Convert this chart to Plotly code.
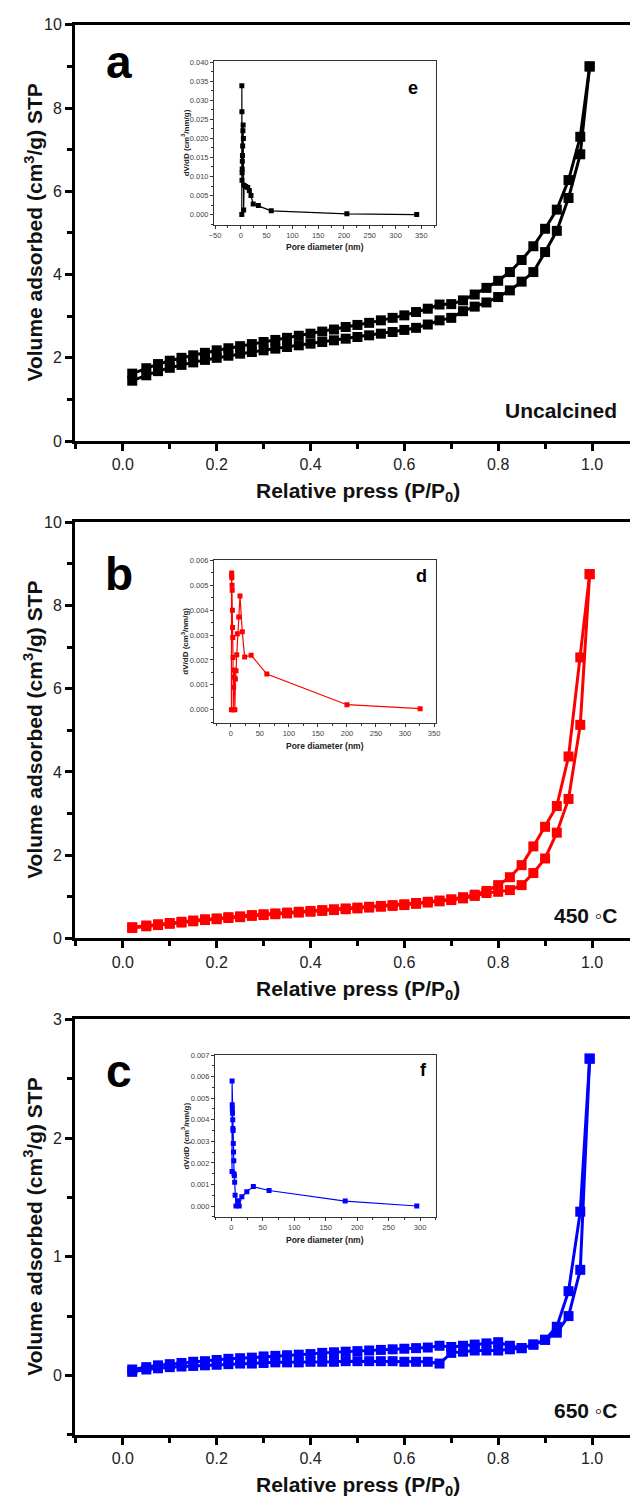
import plotly.graph_objects as go

W, H = 634, 1509
FONT = "Arial, Liberation Sans, Helvetica, sans-serif"

# ---------------- data ----------------
p_rel = [0.02, 0.05, 0.075, 0.1, 0.125, 0.15, 0.175, 0.2, 0.225, 0.25, 0.275, 0.3, 0.325, 0.35,
         0.375, 0.4, 0.425, 0.45, 0.475, 0.5, 0.525, 0.55, 0.575, 0.6, 0.625, 0.65, 0.675, 0.7,
         0.725, 0.75, 0.775, 0.8, 0.825, 0.85, 0.875, 0.9, 0.925, 0.95, 0.975, 0.995]

a_ads = [1.45, 1.58, 1.68, 1.76, 1.83, 1.89, 1.95, 2.0, 2.05, 2.1, 2.14, 2.18, 2.22, 2.26,
         2.3, 2.34, 2.38, 2.42, 2.46, 2.5, 2.54, 2.58, 2.62, 2.67, 2.72, 2.8, 2.9, 2.96,
         3.12, 3.23, 3.33, 3.46, 3.62, 3.83, 4.06, 4.54, 5.05, 5.84, 6.89, 9.0]
a_des = [1.62, 1.75, 1.85, 1.93, 2.0, 2.06, 2.12, 2.18, 2.23, 2.28, 2.33, 2.38, 2.43, 2.48,
         2.53, 2.58, 2.63, 2.68, 2.74, 2.79, 2.84, 2.9, 2.96, 3.02, 3.1, 3.18, 3.28, 3.29,
         3.38, 3.52, 3.68, 3.85, 4.06, 4.35, 4.68, 5.1, 5.56, 6.27, 7.31, 9.0]

b_ads = [0.25, 0.29, 0.32, 0.35, 0.38, 0.41, 0.44, 0.46, 0.49, 0.51, 0.54, 0.56, 0.58, 0.6,
         0.62, 0.64, 0.66, 0.68, 0.7, 0.72, 0.74, 0.76, 0.78, 0.8, 0.83, 0.86, 0.89, 0.92,
         0.96, 1.02, 1.09, 1.12, 1.16, 1.28, 1.57, 1.92, 2.54, 3.35, 5.13, 8.75]
b_des = [0.27, 0.31, 0.34, 0.37, 0.4, 0.43, 0.46, 0.48, 0.51, 0.53, 0.56, 0.58, 0.6, 0.62,
         0.64, 0.66, 0.68, 0.7, 0.72, 0.74, 0.76, 0.78, 0.8, 0.82, 0.85, 0.88, 0.91, 0.94,
         0.99, 1.05, 1.14, 1.28, 1.47, 1.76, 2.21, 2.68, 3.18, 4.37, 6.75, 8.75]

c_ads = [0.03, 0.05, 0.06, 0.07, 0.075, 0.08, 0.085, 0.09, 0.095, 0.1, 0.1, 0.105, 0.11, 0.11,
         0.11, 0.115, 0.115, 0.115, 0.12, 0.12, 0.12, 0.12, 0.12, 0.115, 0.115, 0.115, 0.1, 0.19,
         0.2, 0.21, 0.21, 0.21, 0.22, 0.23, 0.26, 0.3, 0.36, 0.5, 0.89, 2.67]
c_des = [0.05, 0.07, 0.085, 0.095, 0.105, 0.115, 0.12, 0.13, 0.14, 0.145, 0.15, 0.16, 0.165, 0.17,
         0.175, 0.18, 0.19, 0.195, 0.2, 0.205, 0.21, 0.215, 0.22, 0.225, 0.23, 0.235, 0.25, 0.24,
         0.25, 0.26, 0.27, 0.28, 0.25, 0.23, 0.26, 0.3, 0.41, 0.71, 1.38, 2.67]

# inset e (uncalcined)
e_d = [341, 205.6, 59, 34, 24, 19.7, 16.5, 13.4, 9.6, 6.4, 5.5, 5.0, 4.5, 4.0, 3.6, 3.2,
       2.9, 2.7, 2.5, 2.3, 2.1, 2.0, 1.9]
e_v = [0.0, 0.0002, 0.001, 0.0024, 0.0028, 0.005, 0.0063, 0.0071, 0.0074, 0.0077, 0.0012,
       0.020, 0.0235, 0.022, 0.018, 0.0155, 0.014, 0.012, 0.011, 0.009, 0.027, 0.0338, 0.0]
# inset d (450 C)
d_d = [326, 200, 62, 35, 23.8, 19.7, 15.8, 13.6, 11.2, 10.2, 9.0, 7.9, 7.0, 6.2, 5.5, 4.8,
       4.2, 3.8, 3.4, 3.0, 2.7, 2.4, 2.1, 1.8, 1.5, 1.2, 1.0]
d_v = [0.00004, 0.0002, 0.00143, 0.00219, 0.00212, 0.00313, 0.00457, 0.00373, 0.00305,
       0.00221, 0.00156, 0.00123, 0.0, 0.0016, 0.0013, 0.0009, 0.0, 0.0021, 0.0029, 0.0033,
       0.0040, 0.0048, 0.0050, 0.0053, 0.0055, 0.0054, 0.0]
# inset f (650 C)
f_d = [294.8, 181, 60, 35, 24.6, 16.7, 12.5, 10.5, 7.4, 6.0, 5.3, 4.8, 4.3, 3.9, 3.5, 3.1,
       2.8, 2.5, 2.2, 1.9, 1.6, 1.4, 1.2, 1.1]
f_v = [0.0, 0.00023, 0.00072, 0.0009, 0.00066, 0.00043, 0.0, 0.00024, 0.0, 0.0005, 0.0011,
       0.0014, 0.0015, 0.0021, 0.0025, 0.0029, 0.0035, 0.0036, 0.004, 0.0043, 0.0045, 0.0047,
       0.0058, 0.0016]

x_ticks = [0.0, 0.2, 0.4, 0.6, 0.8, 1.0]

# ---------------- layout helpers ----------------
def px_x(x):
    return x / W

def px_y(y):
    return 1 - y / H

fig = go.Figure()

panels = [
    dict(top=17, bot=438, yr=[0, 10], dt=2, mn=1, col="#000000", ads=a_ads, des=a_des,
         letter="a", ly=55, lab="Uncalcined", laby=407),
    dict(top=520, bot=941, yr=[0, 10], dt=2, mn=1, col="#ff0000", ads=b_ads, des=b_des,
         letter="b", ly=572, lab="450 ◦C", laby=918),
    dict(top=1023, bot=1443, yr=[-0.5, 3], dt=1, mn=0.5, col="#0000ff", ads=c_ads, des=c_des,
         letter="c", ly=1075, lab="650 ◦C", laby=1418),
]

X0 = 71
annotations = []
for i, p in enumerate(panels):
    n = "" if i == 0 else str(i + 1)
    xa, ya = "x" + n, "y" + n
    for series in (p["ads"], p["des"]):
        fig.add_trace(go.Scatter(
            x=p_rel, y=series, xaxis=xa, yaxis=ya, mode="lines+markers",
            line=dict(color=p["col"], width=3),
            marker=dict(symbol="square", size=10, color=p["col"]),
            showlegend=False, cliponaxis=False))
    common = dict(showline=True, linecolor="black", linewidth=3, ticks="outside",
                  ticklen=7, tickwidth=2.5, tickcolor="black", showgrid=False, zeroline=False,
                  tickfont=dict(family=FONT, size=16, color="#222"))
    fig.layout["xaxis" + n] = dict(
        domain=[px_x(X0), 1.0], range=[-0.102, 1.081], anchor=ya, mirror=True,
        tickvals=x_ticks, ticktext=[f"{v:.1f}" for v in x_ticks],
        minor=dict(dtick=0.1, tick0=0, ticks="outside", ticklen=5, tickwidth=2.5,
                   tickcolor="black"),
        **common)
    fig.layout["yaxis" + n] = dict(
        domain=[px_y(p["bot"]), px_y(p["top"])], range=p["yr"], anchor=xa, mirror=False,
        dtick=p["dt"], tick0=0,
        minor=dict(dtick=p["mn"], tick0=0, ticks="outside", ticklen=5, tickwidth=2.5,
                   tickcolor="black"),
        **common)
    annotations.append(dict(x=px_x(116), y=px_y(p["ly"]), xref="paper", yref="paper",
                            text=f"<b>{p['letter']}</b>", showarrow=False,
                            font=dict(family=FONT, size=46, color="black"),
                            xanchor="center", yanchor="middle"))
    annotations.append(dict(x=px_x(623), y=px_y(p["laby"]), xref="paper", yref="paper",
                            text=f"<b>{p['lab']}</b>", showarrow=False,
                            font=dict(family=FONT, size=21, color="#111"),
                            xanchor="right", yanchor="middle"))
    annotations.append(dict(x=px_x(29), y=px_y((p["top"] + p["bot"]) / 2), xref="paper",
                            yref="paper", text="<b>Volume adsorbed (cm<sup>3</sup>/g) STP</b>",
                            textangle=-90, showarrow=False,
                            font=dict(family=FONT, size=21, color="#111"),
                            xanchor="center", yanchor="middle"))
    annotations.append(dict(x=px_x(358), y=px_y(p["bot"] + 52), xref="paper", yref="paper",
                            text="<b>Relative press (P/P<sub>0</sub>)</b>", showarrow=False,
                            font=dict(family=FONT, size=21, color="#111"),
                            xanchor="center", yanchor="middle"))

insets = [
    dict(x0=212, x1=437, top=54, bot=219, xr=[-52, 378], yr=[-0.0026, 0.0402], ydt=0.005,
         yminor=0.0025, col="#000000", d=e_d, v=e_v, letter="e", lx=414, ly=81,
         xt=[-50, 0, 50, 100, 150, 200, 250, 300, 350]),
    dict(x0=212, x1=437, top=558, bot=723, xr=[-29, 353], yr=[-0.00053, 0.00603], ydt=0.001,
         yminor=0.0005, col="#ff0000", d=d_d, v=d_v, letter="d", lx=423, ly=574,
         xt=[0, 50, 100, 150, 200, 250, 300, 350]),
    dict(x0=213, x1=437, top=1059, bot=1223, xr=[-26, 325], yr=[-0.00052, 0.007], ydt=0.001,
         yminor=0.0005, col="#0000ff", d=f_d, v=f_v, letter="f", lx=425, ly=1074,
         xt=[0, 50, 100, 150, 200, 250, 300]),
]

for j, q in enumerate(insets):
    n = str(j + 4)
    xa, ya = "x" + n, "y" + n
    fig.add_trace(go.Scatter(
        x=q["d"], y=q["v"], xaxis=xa, yaxis=ya, mode="lines+markers",
        line=dict(color=q["col"], width=1.2),
        marker=dict(symbol="square", size=5, color=q["col"]),
        showlegend=False))
    common = dict(showline=True, linecolor="#333", linewidth=1, mirror=True, ticks="outside",
                  ticklen=3, tickwidth=1, tickcolor="#333", showgrid=False, zeroline=False,
                  tickfont=dict(family=FONT, size=7.5, color="#444"))
    fig.layout["xaxis" + n] = dict(
        domain=[px_x(q["x0"]), px_x(q["x1"])], range=q["xr"], anchor=ya,
        tickvals=q["xt"],
        minor=dict(dtick=25, tick0=0, ticks="outside", ticklen=2, tickwidth=1, tickcolor="#333"),
        **common)
    fig.layout["yaxis" + n] = dict(
        domain=[px_y(q["bot"]), px_y(q["top"])], range=q["yr"], anchor=xa,
        dtick=q["ydt"], tick0=0, tickformat=".3f",
        minor=dict(dtick=q["yminor"], tick0=0, ticks="outside", ticklen=2, tickwidth=1,
                   tickcolor="#333"),
        **common)
    annotations.append(dict(x=px_x(q["lx"]), y=px_y(q["ly"]), xref="paper", yref="paper",
                            text=f"<b>{q['letter']}</b>", showarrow=False,
                            font=dict(family=FONT, size=18, color="black"),
                            xanchor="center", yanchor="middle"))
    annotations.append(dict(x=px_x(183), y=px_y((q["top"] + q["bot"]) / 2), xref="paper",
                            yref="paper", text="<b>dV/dD (cm<sup>3</sup>/nm/g)</b>",
                            textangle=-90, showarrow=False,
                            font=dict(family=FONT, size=8, color="#222"),
                            xanchor="center", yanchor="middle"))
    annotations.append(dict(x=px_x(325), y=px_y(q["bot"] + 23), xref="paper", yref="paper",
                            text="<b>Pore diameter (nm)</b>", showarrow=False,
                            font=dict(family=FONT, size=8.5, color="#222"),
                            xanchor="center", yanchor="middle"))

fig.update_layout(
    width=W, height=H, margin=dict(l=0, r=0, t=0, b=0),
    paper_bgcolor="white", plot_bgcolor="white",
    annotations=annotations, showlegend=False,
    font=dict(family=FONT),
)

fig.write_html("out.html")
